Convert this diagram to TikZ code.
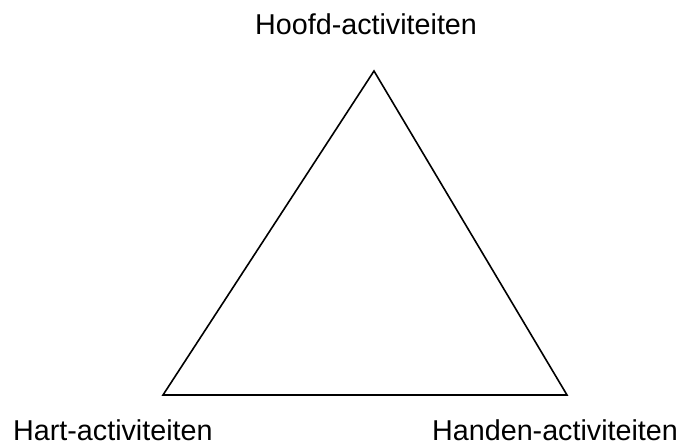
\documentclass[tikz,border=0pt]{standalone}
\usepackage{fontspec}
\setmainfont{Liberation Sans}
\begin{document}
\begin{tikzpicture}[x=1pt,y=-1pt,
  lbl/.style={inner sep=0pt,font=\fontsize{28.7}{32}\selectfont},
  edge/.style={line width=1.6pt,line join=miter}]
\useasboundingbox (0,0) rectangle (682,446);
\coordinate (top) at (374,71);
\coordinate (bl) at (163,395);
\coordinate (br) at (567,395);
\draw[edge] (top) -- (br) -- (bl) -- cycle;
\node[lbl,anchor=base west] (hoofd) at (255,35) {Hoofd-activiteiten};
\node[lbl,anchor=base west] (hart) at (13,440) {Hart-activiteiten};
\node[lbl,anchor=base west] (handen) at (432,440) {Handen-activiteiten};
\end{tikzpicture}
\end{document}
